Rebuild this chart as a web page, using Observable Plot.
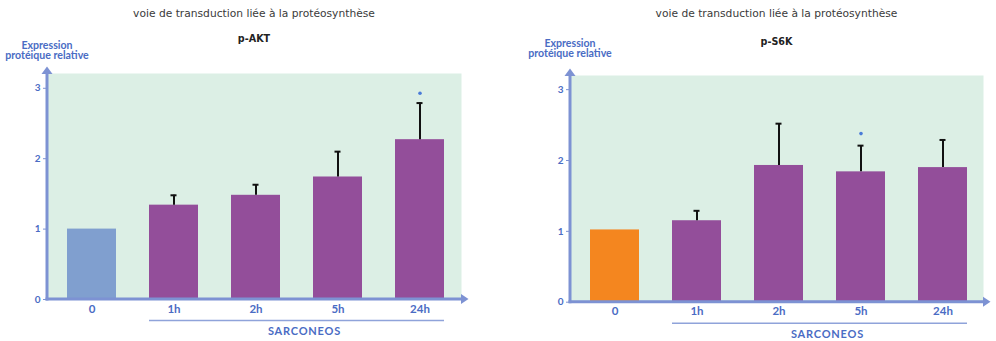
<!DOCTYPE html>
<html><head><meta charset="utf-8">
<script src="https://cdn.jsdelivr.net/npm/d3@7"></script>
<script src="https://cdn.jsdelivr.net/npm/@observablehq/plot@0.6"></script>
<style>
html,body{margin:0;padding:0;background:#fff;}
#wrap{position:relative;width:996px;height:341px;overflow:hidden;font-family:Lato,"Open Sans",sans-serif;}
.panel{position:absolute;top:0;height:341px;}
.panel svg{position:absolute;left:0;top:0;overflow:visible;}
.title{position:absolute;left:0;width:100%;text-align:center;font-family:"DejaVu Sans",sans-serif;font-size:10.7px;color:#3a3a3a;}
.sub{position:absolute;left:0;width:100%;text-align:center;font-family:"DejaVu Sans",sans-serif;font-size:9.6px;font-weight:700;color:#222;}
.ylab{position:absolute;width:120px;text-align:center;font-size:10.6px;font-weight:700;color:#4a6cc4;line-height:10.6px;}
</style></head>
<body><div id="wrap"></div>
<script>
// ---- data ----
const categories = ["0", "1h", "2h", "5h", "24h"];
const groupLabel = "SARCONEOS";
const groupMembers = ["1h", "2h", "5h", "24h"];
const chartTitle = "voie de transduction liée à la protéosynthèse";
const yTitleLines = ["Expression", "protéique relative"];
const yTicks = [0, 1, 2, 3];

const aktName = "p-AKT";
const aktMean = [1.00, 1.34, 1.48, 1.74, 2.27];
const aktErrTop = [null, 1.48, 1.63, 2.10, 2.79];
const aktStar = [null, null, null, null, 2.93];

const s6kName = "p-S6K";
const s6kMean = [1.02, 1.15, 1.93, 1.84, 1.90];
const s6kErrTop = [null, 1.29, 2.52, 2.21, 2.29];
const s6kStar = [null, null, null, 2.38, null];

const controlColors = {akt: "#809fcf", s6k: "#f4861f"};
const treatColor = "#934e9a";
const axisColor = "#7d92d3";
const tickColor = "#4a6cc4";
const bgColor = "#dcefe5";

function makePanel(opts) {
  const rows = categories.map((c, i) => ({
    cat: c, mean: opts.mean[i], err: opts.err[i], star: opts.star[i],
    grp: c === "0" ? "control" : "treated"
  }));
  const errRows = rows.filter(d => d.err != null);
  const starRows = rows.filter(d => d.star != null);

  const decor = (index, scales, values, dim) => {
    const x = scales.x, y = scales.y;
    const bw = typeof x.bandwidth === "function" ? x.bandwidth() : x.bandwidth;
    const g = d3.create("svg:g");
    const left = dim.marginLeft, right = dim.width - dim.marginRight, top = dim.marginTop;
    const y0 = y(0);
    g.append("line").attr("x1", left).attr("x2", left).attr("y1", y0 + 1.5).attr("y2", top - 2)
      .attr("stroke", axisColor).attr("stroke-width", 3);
    g.append("path").attr("d", `M${left - 5.5},${top + 1}L${left},${top - 6.5}L${left + 5.5},${top + 1}Z`).attr("fill", axisColor);
    g.append("line").attr("x1", left - 1.5).attr("x2", right + 2).attr("y1", y0).attr("y2", y0)
      .attr("stroke", axisColor).attr("stroke-width", 3);
    g.append("path").attr("d", `M${right},${y0 - 5}L${right + 7.5},${y0}L${right},${y0 + 5}Z`).attr("fill", axisColor);
    const gx1 = x(groupMembers[0]), gx2 = x(groupMembers[groupMembers.length - 1]) + bw;
    g.append("line").attr("x1", gx1).attr("x2", gx2).attr("y1", y0 + 21.5).attr("y2", y0 + 21.5)
      .attr("stroke", "#8fa3da").attr("stroke-width", 1.5);
    g.append("text").attr("x", (gx1 + gx2) / 2 + 8).attr("y", y0 + 32).attr("dy", "0.35em")
      .attr("text-anchor", "middle").attr("fill", tickColor)
      .attr("font-size", 11).attr("font-weight", 700).attr("letter-spacing", "0.8px").text(groupLabel);
    return g.node();
  };

  const plot = Plot.plot({
    width: opts.width, height: 341,
    marginLeft: 47, marginRight: opts.width - opts.frameRight,
    marginTop: opts.top, marginBottom: 341 - opts.y0,
    style: {fontFamily: "Lato, 'Open Sans', sans-serif", background: "transparent", overflow: "visible"},
    x: {domain: categories, range: [opts.x0, opts.x1], paddingInner: 0.4, paddingOuter: 0.2, align: 0.5, axis: null},
    y: {domain: [0, opts.ymax], axis: null},
    color: {domain: ["control", "treated"], range: [opts.control, treatColor]},
    marks: [
      Plot.frame({fill: bgColor, stroke: "none"}),
      Plot.barY(rows, {x: "cat", y: "mean", fill: "grp"}),
      Plot.ruleX(errRows, {x: "cat", y1: "mean", y2: "err", stroke: "#111", strokeWidth: 2}),
      Plot.tickY(errRows, {x: "cat", y: "err", stroke: "#111", strokeWidth: 2, insetLeft: 21.5, insetRight: 21.5}),
      Plot.dot(starRows, {x: "cat", y: "star", r: 1.8, fill: "#4a7bd8", stroke: "none"}),
      Plot.axisY({ticks: yTicks, tickSize: 4, tickPadding: 3, stroke: axisColor, color: tickColor,
        fontSize: 10, fontWeight: 700, tickFormat: d3.format("d"), label: null}),
      Plot.axisX({tickSize: 0, tickPadding: 5, color: tickColor, fontSize: 11.5, fontWeight: 700, label: null}),
      decor
    ]
  });

  const panel = document.createElement("div");
  panel.className = "panel";
  panel.style.left = opts.left + "px";
  panel.style.width = opts.width + "px";
  panel.appendChild(plot);

  const t = document.createElement("div");
  t.className = "title"; t.style.top = "7px"; t.style.width = (opts.frameRight + 47) + "px";
  t.textContent = chartTitle; panel.appendChild(t);
  const s = document.createElement("div");
  s.className = "sub"; s.style.top = (opts.subTop) + "px"; s.style.width = (opts.frameRight + 47) + "px";
  s.textContent = opts.name; panel.appendChild(s);
  const yl = document.createElement("div");
  yl.className = "ylab"; yl.style.left = (47 - 60) + "px"; yl.style.top = (opts.ylabTop) + "px";
  yl.innerHTML = yTitleLines.join("<br>"); panel.appendChild(yl);
  return panel;
}

const wrap = document.getElementById("wrap");
wrap.appendChild(makePanel({
  left: 0, width: 523, frameRight: 461, x0: 50.5, x1: 461, top: 73, y0: 299, ymax: 3.21,
  mean: aktMean, err: aktErrTop, star: aktStar, control: controlColors.akt, name: aktName, subTop: 33, ylabTop: 39.5
}));
wrap.appendChild(makePanel({
  left: 523, width: 473, frameRight: 460, x0: 50.3, x1: 460.8, top: 75, y0: 301.7, ymax: 3.2,
  mean: s6kMean, err: s6kErrTop, star: s6kStar, control: controlColors.s6k, name: s6kName, subTop: 36, ylabTop: 37.5
}));
</script></body></html>
